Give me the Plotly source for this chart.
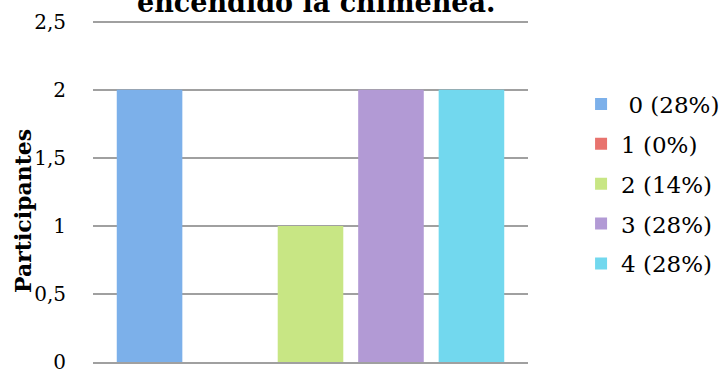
import plotly.graph_objects as go

category = [""]
series_names = [" 0 (28%)", "1 (0%)", "2 (14%)", "3 (28%)", "4 (28%)"]
series_values = [2, 0, 1, 2, 2]
colors = ["#7cb0ea", "#e8736e", "#c8e684", "#b29ad5", "#72d8ee"]
y_ticks = [0, 0.5, 1, 1.5, 2, 2.5]
y_tick_labels = ["0", "0,5", "1", "1,5", "2", "2,5"]

serif = "DejaVu Serif, Liberation Serif, serif"

fig = go.Figure()
for i, (name, val, col) in enumerate(zip(series_names, series_values, colors)):
    fig.add_trace(go.Bar(
        x=category, y=[val], name=name,
        marker=dict(color=col, line=dict(width=0)),
        legendgroup=str(i), hoverinfo="skip",
    ))

fig.update_layout(
    width=719, height=376,
    margin=dict(l=93, r=191, t=19, b=14, autoexpand=False),
    paper_bgcolor="white", plot_bgcolor="white",
    barmode="group", bargap=0.075, bargroupgap=0.185,
    showlegend=True,
    legend=dict(
        x=1.122, xanchor="left", y=0.815, yanchor="top",
        font=dict(family=serif, size=23, color="#000"),
        tracegroupgap=7, itemwidth=30,
    ),
    font=dict(family=serif, color="#000"),
)

fig.update_xaxes(showticklabels=False, showgrid=False, showline=True,
                 linecolor="#a0a0a0", linewidth=1.5, zeroline=False,
                 automargin=False)
fig.update_yaxes(
    range=[0, 2.52], tickvals=y_ticks, ticktext=y_tick_labels,
    showgrid=True, gridcolor="#a0a0a0", gridwidth=1.5,
    zeroline=False, showline=False, automargin=False,
    ticks="", ticklabelstandoff=26,
    tickfont=dict(family=serif, size=20, color="#000"),
)

fig.add_annotation(
    text="<b>Participantes</b>", xref="paper", yref="paper",
    x=-0.161, y=0.44, xanchor="center", yanchor="middle", textangle=-90,
    showarrow=False, font=dict(family=serif, size=22, color="#000"),
)

fig.add_annotation(
    text="<b>encendido la chimenea.</b>", xref="paper", yref="paper",
    x=0.513, y=1.0, yanchor="bottom", xanchor="center", yshift=-1,
    showarrow=False, font=dict(family=serif, size=27, color="#000"),
)

fig.write_html("out.html", config={"displayModeBar": False},
               post_script="document.body.style.margin='0';")
